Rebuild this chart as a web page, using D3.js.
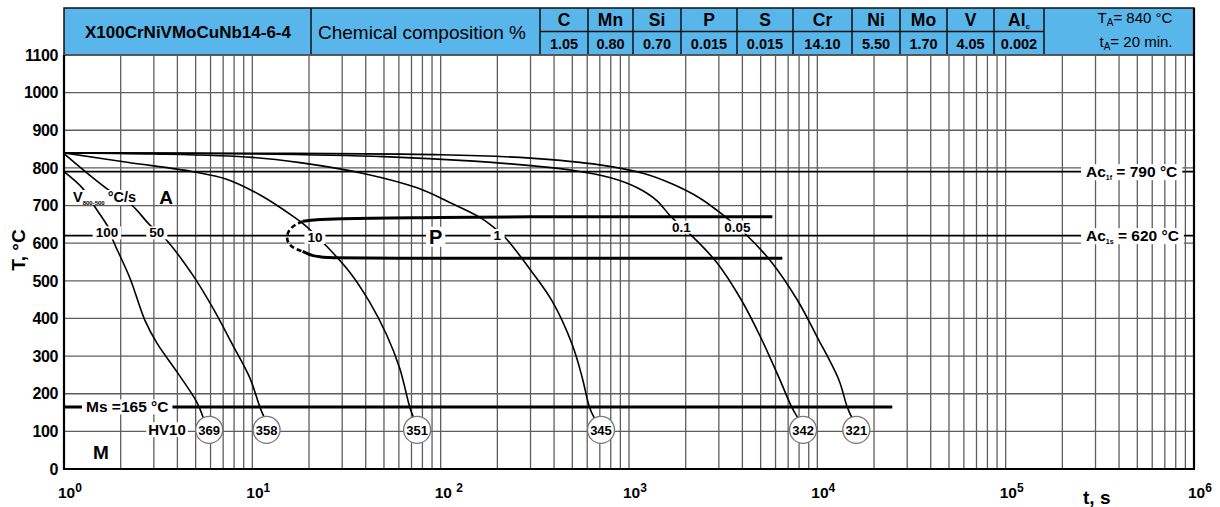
<!DOCTYPE html>
<html>
<head>
<meta charset="utf-8">
<script src="https://cdn.jsdelivr.net/npm/d3@7"></script>
<style>
  body { margin: 0; background: #fff; }
  svg { display: block; font-family: "Liberation Sans", Arial, sans-serif; }
</style>
</head>
<body>
<div id="chart"></div>
<script>
const width = 1220;
const height = 507;

/* ------------------------
   DATA
-------------------------*/
const steelName = "X100CrNiVMoCuNb14-6-4";
const elements = ["C", "Mn", "Si", "P", "S", "Cr", "Ni", "Mo", "V", "Al"];
const contents = ["1.05", "0.80", "0.70", "0.015", "0.015", "14.10", "5.50", "1.70", "4.05", "0.002"];
const austTemp = "840 °C";
const austTime = "20 min.";

const yTicks = [0, 100, 200, 300, 400, 500, 600, 700, 800, 900, 1000, 1100];
const xExps = [0, 1, 2, 3, 4, 5, 6];

const ac1f = 790;
const ac1s = 620;
const msTemp = 165;

// cooling curves, [time s, temperature °C]
const curve100 = [[1, 790], [1.26, 745], [1.46, 696], [1.75, 635], [1.8, 614], [2.24, 507], [2.69, 395], [3.11, 335], [3.98, 258], [5.07, 178], [5.5, 135]];
const curve50 = [[1, 838], [1.43, 773], [1.82, 733], [2.29, 701], [2.86, 648], [3.43, 613], [4.83, 515], [6.17, 428], [7.86, 330], [9.7, 242], [10.96, 165], [11.6, 135]];
const curve10 = [[1, 840], [2.16, 815], [4.84, 790], [7.3, 770], [11, 728], [16.4, 672], [19, 648], [23.6, 603], [32.9, 523], [41.9, 444], [51.7, 356], [60.6, 268], [68.5, 165], [72, 135]];
const curve1 = [[1, 840], [3, 837], [10, 828], [17.9, 814], [40, 784], [75, 747], [111, 709], [160, 670], [185, 648], [218, 617], [306, 523], [393, 444], [500, 330], [565, 242], [616, 165], [655, 135]];
const curve01 = [[1, 840], [10, 837], [50, 830], [150, 818], [300, 806], [500, 794], [800, 774], [1100, 748], [1400, 714], [1660, 672], [2070, 628], [2910, 550], [3950, 449], [5000, 350], [6290, 240], [7300, 165], [7900, 135]];
const curve005 = [[1, 840], [10, 839], [100, 835], [300, 826], [700, 808], [1200, 785], [1700, 757], [2370, 720], [3210, 672], [4100, 627], [5770, 547], [7830, 449], [10000, 350], [13030, 236], [14400, 165], [15300, 135]];
const coolingCurves = [curve100, curve50, curve10, curve1, curve01, curve005];
const rates = ["100", "50", "10", "1", "0.1", "0.05"];
const rateLabelAt = [[1.69, 628], [3.11, 628], [21.5, 616], [200, 621], [1900, 643], [3765, 643]];

// pearlite start / finish
const pStart = [[18.5, 658], [22, 662], [30, 665], [100, 668], [300, 670], [5770, 670]];
const pFinish = [[18.5, 578], [21, 567], [27, 561], [60, 560], [6520, 560]];
const pNose = [[18.5, 658], [16.6, 648], [15.5, 632], [15.2, 616], [15.5, 599], [16.6, 586], [18.5, 578]];

// hardness HV10
const hvValues = [369, 358, 351, 345, 342, 321];
const hvTimes = [5.9, 11.9, 75, 710, 8400, 16100];
const hvTemp = 104;

/* ------------------------
   LAYOUT
-------------------------*/
const svg = d3.select("#chart")
    .append("svg")
    .attr("width", width)
    .attr("height", height);

const x = d3.scaleLog().domain([1, 1e6]).range([64, 1194]);
const y = d3.scaleLinear().domain([0, 1100]).range([469, 55]);

const headerTop = 8;
const headerMid = 31.5;
const headerEdges = [64, 311, 540, 588, 633, 681, 737, 793, 852, 900, 947, 994, 1044, 1194];
const blue = "#58b6ea";

/* ------------------------
   HEADER
-------------------------*/
const header = svg.append("g");
header.append("rect")
    .attr("x", 64).attr("y", headerTop)
    .attr("width", 1194 - 64).attr("height", y(1100) - headerTop)
    .attr("fill", blue).attr("stroke", "#111").attr("stroke-width", 1.5);

header.selectAll("line.div")
    .data(headerEdges.slice(1, -1))
    .enter().append("line")
    .attr("x1", d => d).attr("x2", d => d)
    .attr("y1", headerTop).attr("y2", y(1100))
    .attr("stroke", "#111").attr("stroke-width", 1.5);

header.append("line")
    .attr("x1", headerEdges[2]).attr("x2", headerEdges[12])
    .attr("y1", headerMid).attr("y2", headerMid)
    .attr("stroke", "#111").attr("stroke-width", 1.5);

header.append("text")
    .attr("x", 188).attr("y", 37.5)
    .attr("text-anchor", "middle")
    .attr("font-size", 17).attr("font-weight", "bold")
    .text(steelName);

header.append("text")
    .attr("x", 422).attr("y", 39)
    .attr("text-anchor", "middle")
    .attr("font-size", 19)
    .text("Chemical composition %");

const elName = header.selectAll("text.el")
    .data(elements)
    .enter().append("text")
    .attr("class", "el")
    .attr("x", (d, i) => (headerEdges[i + 2] + headerEdges[i + 3]) / 2)
    .attr("y", 26)
    .attr("text-anchor", "middle")
    .attr("font-size", 17.5).attr("font-weight", "bold")
    .text(d => d);
elName.filter(d => d === "Al").append("tspan")
    .attr("font-size", 8).attr("dy", 3).text("c");

header.selectAll("text.val")
    .data(contents)
    .enter().append("text")
    .attr("class", "val")
    .attr("x", (d, i) => (headerEdges[i + 2] + headerEdges[i + 3]) / 2)
    .attr("y", 49)
    .attr("text-anchor", "middle")
    .attr("font-size", 14.5).attr("font-weight", "bold")
    .text(d => d);

const ta = header.append("text").attr("x", 1135).attr("y", 23).attr("text-anchor", "middle").attr("font-size", 15);
ta.append("tspan").text("T");
ta.append("tspan").attr("font-size", 10).attr("dy", 3).text("A");
ta.append("tspan").attr("dy", -3).text("= " + austTemp);
const tt = header.append("text").attr("x", 1136).attr("y", 47).attr("text-anchor", "middle").attr("font-size", 15);
tt.append("tspan").text("t");
tt.append("tspan").attr("font-size", 10).attr("dy", 3).text("A");
tt.append("tspan").attr("dy", -3).text("= " + austTime);

/* ------------------------
   GRID
-------------------------*/
const grid = svg.append("g").attr("stroke", "#5e5e5e").attr("stroke-width", 1.3);
const vTicks = x.ticks(60).filter(d => d <= 1e6);
grid.selectAll("line.v")
    .data(vTicks)
    .enter().append("line")
    .attr("x1", d => x(d)).attr("x2", d => x(d))
    .attr("y1", y(1100)).attr("y2", y(0));
grid.selectAll("line.h")
    .data(yTicks)
    .enter().append("line")
    .attr("x1", x(1)).attr("x2", x(1e6))
    .attr("y1", d => y(d)).attr("y2", d => y(d));

/* ------------------------
   TRANSFORMATION LINES
-------------------------*/
const marks = svg.append("g").attr("fill", "none").attr("stroke", "#000");

[ac1f, ac1s].forEach(t => {
    marks.append("line")
        .attr("x1", x(1)).attr("x2", x(1e6))
        .attr("y1", y(t)).attr("y2", y(t))
        .attr("stroke-width", 1.6);
});

marks.append("line")
    .attr("x1", x(1)).attr("x2", x(25000))
    .attr("y1", y(msTemp)).attr("y2", y(msTemp))
    .attr("stroke-width", 3);

const line = d3.line()
    .x(d => x(d[0]))
    .y(d => y(d[1]))
    .curve(d3.curveMonotoneX);

// smoother for the cooling curves
const smooth = d3.line()
    .x(d => x(d[0]))
    .y(d => y(d[1]))
    .curve(d3.curveCatmullRom.alpha(0.5));

const lineY = d3.line()
    .x(d => x(d[0]))
    .y(d => y(d[1]))
    .curve(d3.curveBasis);

marks.append("path").attr("d", line(pStart)).attr("stroke-width", 3);
marks.append("path").attr("d", line(pFinish)).attr("stroke-width", 3);
marks.append("path").attr("d", lineY(pNose))
    .attr("stroke-width", 2.6).attr("stroke-dasharray", "5,3");

marks.selectAll("path.cool")
    .data(coolingCurves)
    .enter().append("path")
    .attr("class", "cool")
    .attr("d", d => smooth(d))
    .attr("stroke-width", 1.6);

/* ------------------------
   LABELS WITH WHITE BACKGROUND
-------------------------*/
const labels = svg.append("g");

function boxed(sel, pad) {
    const b = sel.node().getBBox();
    labels.insert("rect", () => sel.node())
        .attr("x", b.x - pad).attr("y", b.y + 1)
        .attr("width", b.width + 2 * pad).attr("height", b.height - 2)
        .attr("fill", "#fff");
    return sel;
}

rates.forEach((r, i) => {
    const p = rateLabelAt[i];
    const t = labels.append("text")
        .attr("x", x(p[0])).attr("y", y(p[1]))
        .attr("dy", "0.35em")
        .attr("text-anchor", "middle")
        .attr("font-size", 13.5).attr("font-weight", "bold")
        .text(r);
    boxed(t, 3);
});

boxed(labels.append("text")
    .attr("x", x(94)).attr("y", y(617)).attr("dy", "0.35em")
    .attr("text-anchor", "middle")
    .attr("font-size", 20).attr("font-weight", "bold")
    .text("P"), 3);

const vLab = labels.append("text").attr("x", 73).attr("y", 202)
    .attr("font-size", 14.5).attr("font-weight", "bold");
vLab.append("tspan").text("V");
vLab.append("tspan").attr("font-size", 6).attr("dy", 3).text("800-500");
vLab.append("tspan").attr("dy", -3).attr("dx", 3).text("°C/s");
boxed(vLab, 2);

const msLab = labels.append("text").attr("x", 86).attr("y", y(msTemp) + 5.5)
    .attr("font-size", 15.5).attr("font-weight", "bold")
    .text("Ms =" + msTemp + " °C");
boxed(msLab, 4);

boxed(labels.append("text")
    .attr("x", 167).attr("y", y(hvTemp)).attr("dy", "0.35em")
    .attr("text-anchor", "middle")
    .attr("font-size", 15).attr("font-weight", "bold")
    .text("HV10"), 2);

[[ac1f, "1f"], [ac1s, "1s"]].forEach(a => {
    const t = labels.append("text")
        .attr("x", 1086).attr("y", y(a[0]) + 5.5)
        .attr("font-size", 15.5).attr("font-weight", "bold");
    t.append("tspan").text("Ac");
    t.append("tspan").attr("font-size", 7).attr("dy", 3).text(a[1]);
    t.append("tspan").attr("dy", -3).text(" = " + a[0] + " °C");
    boxed(t, 5);
});

labels.append("text").attr("x", 166).attr("y", 197).attr("dy", "0.35em")
    .attr("text-anchor", "middle").attr("font-size", 19).attr("font-weight", "bold")
    .text("A");
labels.append("text").attr("x", 101).attr("y", y(45)).attr("dy", "0.35em")
    .attr("text-anchor", "middle").attr("font-size", 19).attr("font-weight", "bold")
    .text("M");

/* ------------------------
   HARDNESS CIRCLES
-------------------------*/
const hvG = svg.append("g");
hvG.selectAll("circle")
    .data(hvValues)
    .enter().append("circle")
    .attr("cx", (d, i) => x(hvTimes[i]))
    .attr("cy", y(hvTemp))
    .attr("r", 13.5)
    .attr("fill", "#fff")
    .attr("stroke", "#777")
    .attr("stroke-width", 1.3);
hvG.selectAll("text")
    .data(hvValues)
    .enter().append("text")
    .attr("x", (d, i) => x(hvTimes[i]))
    .attr("y", y(hvTemp))
    .attr("dy", "0.36em")
    .attr("text-anchor", "middle")
    .attr("font-size", 13).attr("font-weight", "bold")
    .text(d => d);

/* ------------------------
   AXES
-------------------------*/
const frame = svg.append("g").attr("stroke", "#000").attr("stroke-width", 2.2);
frame.append("line").attr("x1", x(1)).attr("x2", x(1)).attr("y1", y(1100)).attr("y2", y(0));
frame.append("line").attr("x1", x(1e6)).attr("x2", x(1e6)).attr("y1", headerTop).attr("y2", y(0));
frame.append("line").attr("x1", x(1) - 1).attr("x2", x(1e6) + 1).attr("y1", y(0)).attr("y2", y(0));

svg.append("g").selectAll("text")
    .data(yTicks)
    .enter().append("text")
    .attr("x", 58).attr("y", d => y(d))
    .attr("dy", "0.36em")
    .attr("text-anchor", "end")
    .attr("font-size", 16).attr("font-weight", "bold")
    .attr("letter-spacing", -0.4)
    .text(d => d);

const xl = svg.append("g").selectAll("text")
    .data(xExps)
    .enter().append("text")
    .attr("x", d => x(Math.pow(10, d)) - 6)
    .attr("y", 498)
    .attr("font-size", 15.5).attr("font-weight", "bold")
    .text(d => d === 2 ? "10 " : "10");
xl.append("tspan").attr("font-size", 12).attr("dy", -6).text(d => d);

svg.append("text")
    .attr("transform", "translate(25,250) rotate(-90)")
    .attr("text-anchor", "middle")
    .attr("font-size", 19).attr("font-weight", "bold")
    .text("T, °C");

svg.append("text")
    .attr("x", 1083).attr("y", 504)
    .attr("font-size", 19).attr("font-weight", "bold")
    .text("t, s");
</script>
</body>
</html>
